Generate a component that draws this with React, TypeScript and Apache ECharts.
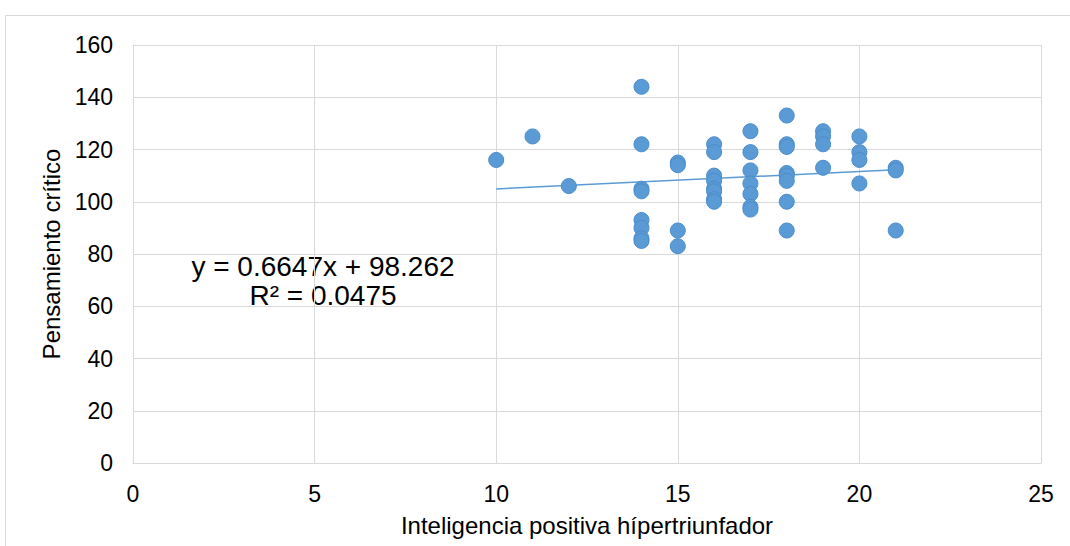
import React, { useEffect, useRef } from "react";
import * as echarts from "echarts";

const xValues: number[] = [
  10, 11, 12,
  14, 14, 14, 14, 14, 14, 14, 14,
  15, 15, 15, 15,
  16, 16, 16, 16, 16, 16, 16, 16,
  17, 17, 17, 17, 17, 17, 17,
  18, 18, 18, 18, 18, 18, 18, 18,
  19, 19, 19, 19,
  20, 20, 20, 20,
  21, 21, 21,
];
const yValues: number[] = [
  116, 125, 106,
  144, 122, 105, 104, 93, 90, 86, 85,
  115, 114, 89, 83,
  122, 119, 110, 108, 105, 104, 101, 100,
  127, 119, 112, 107, 103, 98, 97,
  133, 122, 121, 111, 110, 108, 100, 89,
  127, 125, 122, 113,
  125, 119, 116, 107,
  113, 112, 89,
];
const trendX: number[] = [10, 21];
const trendY: number[] = [104.909, 112.221];
const equationLines: string[] = ["y = 0.6647x + 98.262", "R² = 0.0475"];
const xTitle = "Inteligencia positiva hípertriunfador";
const yTitle = "Pensamiento crítico";

export default function App() {
  const ref = useRef<HTMLDivElement>(null);
  useEffect(() => {
    if (!ref.current) return;
    const chart = echarts.init(ref.current, null, { renderer: "svg" });
    const font = "Liberation Sans, Arial, sans-serif";
    chart.setOption({
      animation: false,
      backgroundColor: "#ffffff",
      grid: { left: 133, right: 29, top: 45, bottom: 83 },
      xAxis: {
        type: "value",
        min: 0,
        max: 25,
        interval: 5,
        name: xTitle,
        nameLocation: "middle",
        nameGap: 50,
        nameTextStyle: { fontFamily: font, fontSize: 24, color: "#000" },
        axisLine: { show: true, lineStyle: { color: "#d9d9d9", width: 1 } },
        axisTick: { show: false },
        axisLabel: { fontFamily: font, fontSize: 23, color: "#000", margin: 19 },
        splitLine: { show: true, lineStyle: { color: "#d9d9d9", width: 1 } },
      },
      yAxis: {
        type: "value",
        min: 0,
        max: 160,
        interval: 20,
        name: yTitle,
        nameLocation: "middle",
        nameGap: 69,
        nameTextStyle: { fontFamily: font, fontSize: 24, color: "#000" },
        axisLine: { show: true, lineStyle: { color: "#d9d9d9", width: 1 } },
        axisTick: { show: false },
        axisLabel: { fontFamily: font, fontSize: 23, color: "#000", margin: 20 },
        splitLine: { show: true, lineStyle: { color: "#d9d9d9", width: 1 } },
      },
      graphic: [
        {
          type: "rect",
          shape: { x: 5.5, y: 15.5, width: 1070, height: 540 },
          style: { fill: "none", stroke: "#d9d9d9", lineWidth: 1 },
          silent: true,
        },
        {
          type: "text",
          x: 323,
          y: 266,
          style: {
            text: equationLines[0],
            font: "28px " + font,
            fill: "#000",
            align: "center",
            verticalAlign: "middle",
          },
        },
        {
          type: "text",
          x: 323,
          y: 295,
          style: {
            text: equationLines[1],
            font: "28px " + font,
            fill: "#000",
            align: "center",
            verticalAlign: "middle",
          },
        },
      ],
      series: [
        {
          type: "line",
          data: trendX.map((x, i) => [x, trendY[i]]),
          showSymbol: false,
          symbol: "none",
          lineStyle: { color: "#5b9bd5", width: 1.5 },
          z: 1,
        },
        {
          type: "scatter",
          data: xValues.map((x, i) => [x, yValues[i]]),
          symbol: "circle",
          symbolSize: 15,
          itemStyle: {
            color: "#5b9bd5",
            borderColor: "#4a8ccb",
            borderWidth: 1,
            opacity: 1,
          },
          z: 2,
        },
      ],
    });
    return () => chart.dispose();
  }, []);
  return (
    <div
      ref={ref}
      style={{ position: "fixed", left: 0, top: 0, width: 1070, height: 546 }}
    />
  );
}
